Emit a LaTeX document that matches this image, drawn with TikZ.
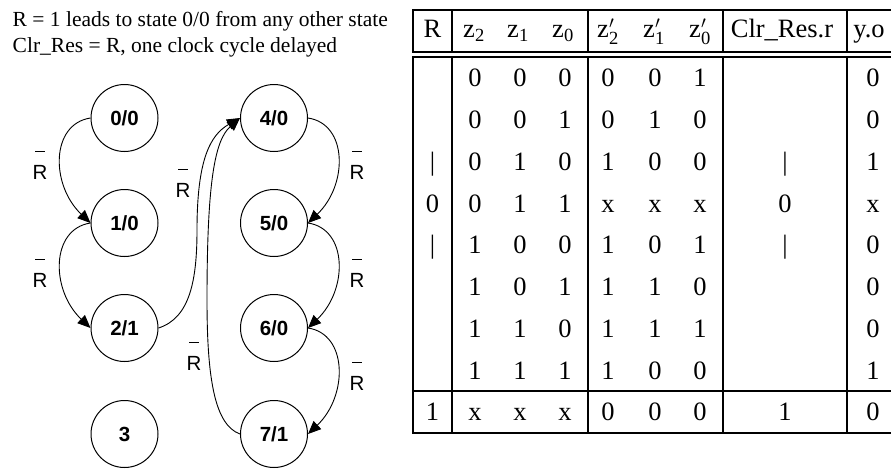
\documentclass[tikz,border=0pt]{standalone}
\usepackage{fontspec}
\setmainfont{Liberation Serif}
\setsansfont{Liberation Sans}
\usetikzlibrary{arrows.meta}
\newcommand\myRbar{\ooalign{\hfil\rule[27pt]{9.5pt}{1pt}\hfil\cr R}}
\tikzset{
  state/.style={circle, draw, line width=1pt, minimum size=67pt, inner sep=0pt,
    font=\sffamily\bfseries\fontsize{20.5}{20.5}\selectfont},
  tr/.style={-{Triangle[length=13pt,width=11pt]}, line width=0.9pt},
  rlab/.style={anchor=base, inner sep=0pt, font=\sffamily\fontsize{20.5}{20.5}\selectfont},
  note/.style={anchor=base west, inner sep=0pt, font=\fontsize{21.5}{24}\selectfont},
  cell/.style={anchor=center, inner sep=0pt, text height=17.8pt, text depth=0pt,
    font=\fontsize{26.5}{30}\selectfont},
  grid/.style={line width=1.8pt}
}
\begin{document}
\begin{tikzpicture}[x=1pt,y=-1pt]
\clip (0,0) rectangle (891,469);
\fill[white] (0,0) rectangle (891,469);

% notes
\node[note] (t1) at (12.5,26.5) {R = 1 leads to state 0/0 from any other state};
\node[note] (t2) at (12.5,52.5) {Clr\_Res = R, one clock cycle delayed};

% states
\node[state] (n00) at (124.5,118) {0/0};
\node[state] (n10) at (124.5,223) {1/0};
\node[state] (n21) at (124.5,328) {2/1};
\node[state] (n3)  at (124.5,434) {3};
\node[state] (n40) at (274,118) {4/0};
\node[state] (n50) at (274,223) {5/0};
\node[state] (n60) at (274,328) {6/0};
\node[state] (n71) at (274,434) {7/1};

% transitions
\draw[tr] (n00.west) .. controls +(-40,6) and +(-40,-38) .. (n10.west);
\draw[tr] (n10.west) .. controls +(-40,6) and +(-40,-38) .. (n21.west);
\draw[tr] (n40.east) .. controls +(40,6) and +(40,-38) .. (n50.east);
\draw[tr] (n50.east) .. controls +(40,6) and +(40,-38) .. (n60.east);
\draw[tr] (n60.east) .. controls +(40,6) and +(40,-38) .. (n71.east);
\coordinate (j1) at (197,230);
\coordinate (j2) at (207,300);
\draw[tr] (n21.east) .. controls (190,318) and (197,280) .. (j1)
  .. controls (197,160) and (210,135) .. (n40.west);
\draw[tr] (n71.west) .. controls (215,425) and (207,380) .. (j2)
  .. controls (207,180) and (215,140) .. (n40.west);

% labels
\node[rlab] (l1) at (40,179) {\myRbar};
\node[rlab] (l2) at (40,287) {\myRbar};
\node[rlab] (l3) at (183,197) {\myRbar};
\node[rlab] (l4) at (357,179) {\myRbar};
\node[rlab] (l5) at (357,287) {\myRbar};
\node[rlab] (l6) at (194,370) {\myRbar};
\node[rlab] (l7) at (357,390) {\myRbar};

% table frame
\draw[grid] (413,10) rectangle (900,52);
\draw[grid] (413,57) rectangle (900,433);
\draw[grid] (413,391) -- (900,391);
\foreach \xx in {452,588,723,847} {
  \draw[grid] (\xx,10) -- (\xx,52);
  \draw[grid] (\xx,57) -- (\xx,433);
}

% header
\node[cell] (hR) at (432.5,29) {R};
\node[cell] (hz2) at (474,29) {z$_{\mathrm{2}}$};
\node[cell] (hz1) at (518,29) {z$_{\mathrm{1}}$};
\node[cell] (hz0) at (563,29) {z$_{\mathrm{0}}$};
\node[cell] (hp2) at (608,29) {z$'_{\mathrm{2}}$};
\node[cell] (hp1) at (654,29) {z$'_{\mathrm{1}}$};
\node[cell] (hp0) at (700,29) {z$'_{\mathrm{0}}$};
\node[cell] (hclr) at (782,29) {Clr\_Res.r};
\node[cell] (hyo) at (869,29) {y.o};

% body
\foreach \rowvals [count=\i] in {
  {{},0,0,0,0,0,1,{},0},
  {{},0,0,1,0,1,0,{},0},
  {\textbar,0,1,0,1,0,0,\textbar,1},
  {0,0,1,1,x,x,x,0,x},
  {\textbar,1,0,0,1,0,1,\textbar,0},
  {{},1,0,1,1,1,0,{},0},
  {{},1,1,0,1,1,1,{},0},
  {{},1,1,1,1,0,0,{},1},
  {1,x,x,x,0,0,0,1,0}} {
  \pgfmathsetmacro\yy{\i<9 ? 57+41.75*(\i-0.5) : 412}
  \foreach \v [count=\j] in \rowvals {
    \pgfmathsetmacro\xx{{432.5,475,520,565,608,655,700,785,873}[\j-1]}
    \node[cell] (c-\i-\j) at (\xx,\yy) {\v};
  }
}
\end{tikzpicture}
\end{document}
